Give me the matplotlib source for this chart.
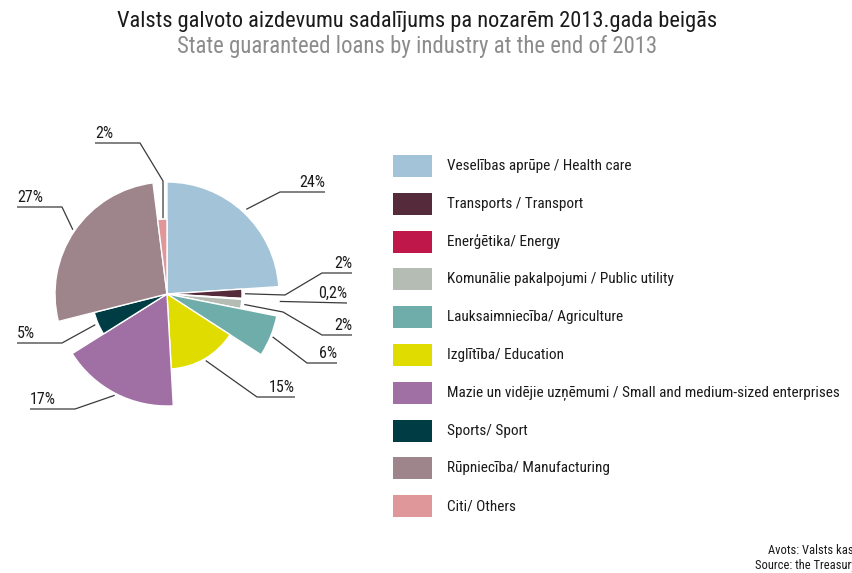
import matplotlib
matplotlib.use('Agg')
import matplotlib.pyplot as plt
from matplotlib import font_manager
from matplotlib.font_manager import FontProperties
import numpy as np

# ---------------- data ----------------
categories = [
    'Veselības aprūpe / Health care',
    'Transports / Transport',
    'Enerģētika/ Energy',
    'Komunālie pakalpojumi / Public utility',
    'Lauksaimniecība/ Agriculture',
    'Izglītība/ Education',
    'Mazie un vidējie uzņēmumi / Small and medium-sized enterprises',
    'Sports/ Sport',
    'Rūpniecība/ Manufacturing',
    'Citi/ Others',
]
values = [24, 2, 0.2, 2, 6, 15, 17, 5, 27, 2]
value_labels = ['24%', '2%', '0,2%', '2%', '6%', '15%', '17%', '5%', '27%', '2%']
colors = ['#a3c4d8', '#552b3c', '#c0174a', '#b4bcb4', '#6fadab',
          '#e0dc00', '#a070a4', '#003c44', '#9e848b', '#e0979a']

title = 'Valsts galvoto aizdevumu sadalījums pa nozarēm 2013.gada beigās'
subtitle = 'State guaranteed loans by industry at the end of 2013'
source_lines = ['Avots: Valsts kase', 'Source: the Treasury']

# ---------------- font: prefer a condensed sans ----------------
cand = []
for f in font_manager.fontManager.ttflist:
    nm = (f.name + ' ' + f.fname).lower()
    st = str(f.stretch).lower()
    cond = ('narrow' in nm or 'condensed' in nm or 'cond' in st)
    if cond and f.style == 'normal' and 'bold' not in nm and 'light' not in nm \
            and 'italic' not in nm and 'oblique' not in nm and 'mono' not in nm \
            and 'serif' not in f.name.lower():
        score = 0 if 'liberation' in nm else (1 if 'roboto' in nm else (2 if 'dejavu' in nm else 3))
        cand.append((score, f.fname))
cand.sort()
if cand:
    FP = FontProperties(fname=cand[0][1])
    narrow = True
else:
    FP = FontProperties(family=['Roboto', 'DejaVu Sans'])
    narrow = False

W, H = 853, 573
fig = plt.figure(figsize=(W / 100, H / 100), dpi=100)
ax = fig.add_axes([0, 0, 1, 1])
renderer = fig.canvas.get_renderer()


def Y(y):
    return H - y


def fp(size):
    p = FP.copy()
    p.set_size(size)
    return p


cx, cy = 167, Y(294)
big, small = 112, 75
radii = [big, small, big + 1, small, big, small, big, small, big, small]

wedges, _ = ax.pie(values, colors=colors, startangle=90, counterclock=False,
                   center=(cx, cy), radius=big,
                   wedgeprops=dict(edgecolor='white', linewidth=1.0))
for w, r in zip(wedges, radii):
    w.set_radius(r)

ax.set_xlim(0, W)
ax.set_ylim(0, H)
ax.set_aspect('equal', adjustable='box')
ax.axis('off')


def anchor(i, extra):
    w = wedges[i]
    a = np.deg2rad((w.theta1 + w.theta2) / 2)
    r = w.r + extra
    return cx + r * np.cos(a), cy + r * np.sin(a)


layout = [
    (4, [(280, 192), (325, 192)], (325, 190), 'right'),
    (3, [(285, 295), (322, 273), (352, 273)], (352, 271), 'right'),
    (0, [(347, 303)], (347, 301), 'right'),
    (3, [(283, 312), (322, 335), (352, 335)], (352, 333), 'right'),
    (2, [(307, 363), (337, 363)], (337, 361), 'right'),
    (2, [(257, 397), (295, 397)], (295, 395), 'right'),
    (2, [(75, 409), (30, 409)], (30, 407), 'left'),
    (3, [(62, 343), (17, 343)], (17, 341), 'left'),
    (2, [(62, 207), (17, 207)], (17, 205), 'left'),
    (1, [(163, 181), (140, 143), (95, 143)], (95, 141), 'left'),
]

lab_size = 11.5 if narrow else 10
for i, (extra, pts, tpos, ha) in enumerate(layout):
    ax0, ay0 = anchor(i, extra)
    if i == 9:
        ax0 = pts[0][0]
    xs = [ax0] + [p[0] for p in pts]
    ys = [ay0] + [Y(p[1]) for p in pts]
    ax.plot(xs, ys, color='#3a3a3a', lw=0.9, solid_capstyle='butt')
    ax.text(tpos[0], Y(tpos[1]), value_labels[i], ha=ha, va='bottom',
            fontproperties=fp(lab_size), color='#1a1a1a')

# legend (size fitted so the longest entry ends where the reference does)
probe = ax.text(0, 0, categories[6], fontproperties=fp(11))
pw = probe.get_window_extent(renderer).width
probe.remove()
leg_size = 11 * 391 / pw
for i, (cat, col) in enumerate(zip(categories, colors)):
    top = 155 + i * 37.8
    ax.add_patch(plt.Rectangle((393, Y(top + 22)), 39, 22, facecolor=col,
                               edgecolor='none'))
    ax.text(447, Y(top + 11), cat, ha='left', va='center',
            fontproperties=fp(leg_size), color='#1a1a1a')


def fitted_text(xc, yc, s, target_w, color, start):
    t = fig.text(xc / W, 1 - yc / H, s, ha='center', va='center',
                 fontproperties=fp(start), color=color)
    wpx = t.get_window_extent(renderer).width
    t.set_fontproperties(fp(start * target_w / wpx))
    return t


fitted_text(417, 21, title, 600, '#1a1a1a', 16)
fitted_text(417, 47, subtitle, 481, '#8c8c8c', 16)

src_size = 9 if narrow else 8
fig.text(768 / W, 1 - 551 / H, source_lines[0], ha='left', va='center',
         fontproperties=fp(src_size), color='#1a1a1a')
fig.text(755 / W, 1 - 566 / H, source_lines[1], ha='left', va='center',
         fontproperties=fp(src_size), color='#1a1a1a')

fig.savefig('out.png', dpi=100)
